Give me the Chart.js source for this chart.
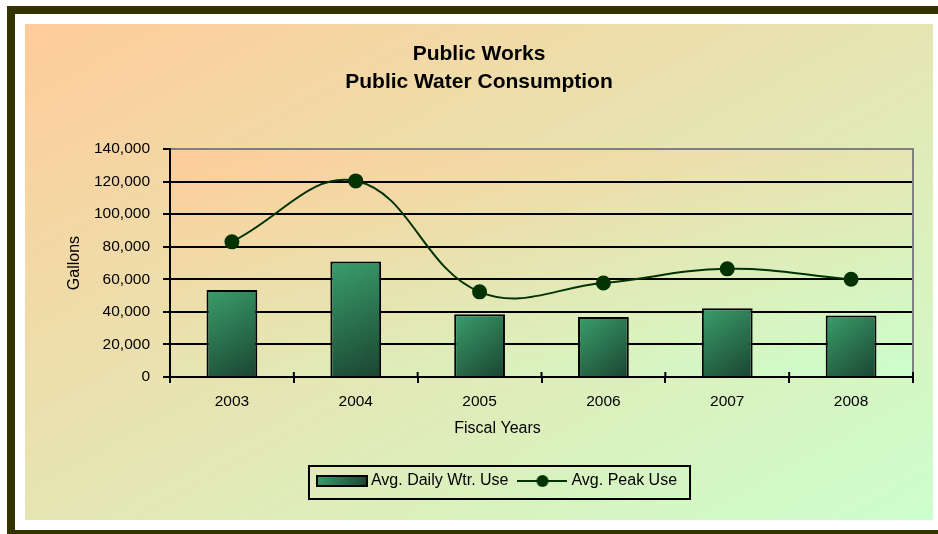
<!DOCTYPE html>
<html lang="en">
<head>
  <meta charset="UTF-8" />
  <title>Public Water Consumption</title>
  <script src="https://cdn.jsdelivr.net/npm/chart.js"></script>
  <style>
    body { margin: 0; background: #fff; }
    .frame {
      position: absolute; left: 7px; top: 6px; width: 940px; height: 516px;
      border-left: 8px solid #333300; border-top: 8px solid #333300; border-bottom: 4px solid #333300;
    }
    .panel {
      position: absolute; left: 25px; top: 24px; width: 908px; height: 496px;
      background: linear-gradient(to bottom right, #ffcc99, #ccffcc);
    }
  </style>
</head>
<body>
  <div class="frame"></div>
  <div class="panel">
    <canvas id="myChart" width="908" height="496"></canvas>
  </div>

  <script>
    // values
    const anos = ['2003', '2004', '2005', '2006', '2007', '2008'];
    const usoDiario = [53400, 70900, 38600, 36900, 42200, 37700];
    const usoPico = [83000, 120400, 52300, 57700, 66400, 60000];
    const ticksY = [0, 20000, 40000, 60000, 80000, 100000, 120000, 140000];
    const tituloX = 'Fiscal Years';

    const fonte = "Arial, 'Liberation Sans', sans-serif";
    const verde = '#003300';

    function swatchBarra() {
      const c = document.createElement('canvas');
      c.width = 52; c.height = 12;
      const g = c.getContext('2d');
      const gr = g.createLinearGradient(0, 0, 52, 12);
      gr.addColorStop(0, '#3a9e6c');
      gr.addColorStop(1, '#1a4530');
      g.fillStyle = gr;
      g.fillRect(1, 1, 50, 10);
      g.strokeStyle = '#000';
      g.lineWidth = 2;
      g.strokeRect(1, 1, 50, 10);
      return c;
    }

    function swatchLinha() {
      const c = document.createElement('canvas');
      c.width = 50; c.height = 14;
      const g = c.getContext('2d');
      g.strokeStyle = verde;
      g.lineWidth = 2;
      g.beginPath(); g.moveTo(0, 7); g.lineTo(50, 7); g.stroke();
      g.fillStyle = verde;
      g.beginPath(); g.arc(25, 7, 6, 0, Math.PI * 2); g.fill();
      return c;
    }

    const ctx = document.getElementById('myChart');

    // plot area background, right border, x title, tick marks above the x axis, legend box
    const extras = {
      id: 'extras',
      beforeDraw(chart) {
        const a = chart.chartArea, c = chart.ctx;
        const w = a.right - a.left, h = a.bottom - a.top;
        const cx = a.left + w / 2, cy = a.top + h / 2;
        const L2 = w * w + h * h;
        const k = w * h / L2;
        // same direction as css "to bottom right"
        const gr = c.createLinearGradient(cx - h * k, cy - w * k, cx + h * k, cy + w * k);
        gr.addColorStop(0, '#ffcc99');
        gr.addColorStop(1, '#ccffcc');
        c.save();
        c.fillStyle = gr;
        c.fillRect(a.left, a.top, w, h);
        c.restore();
      },
      afterLayout(chart) {
        chart.legend.left += 30;
        chart.legend.right += 30;
        chart.titleBlock.left += 10;
        chart.titleBlock.right += 10;
      },
      afterDraw(chart) {
        const a = chart.chartArea, c = chart.ctx, xs = chart.scales.x;
        c.save();
        c.strokeStyle = '#808080';
        c.lineWidth = 2;
        c.beginPath(); c.moveTo(a.right, a.top - 1); c.lineTo(a.right, a.bottom); c.stroke();
        c.strokeStyle = '#000';
        for (let i = 0; i <= anos.length; i++) {
          const px = xs.getPixelForValue(i - 0.5);
          c.beginPath(); c.moveTo(px, a.bottom - 5); c.lineTo(px, a.bottom); c.stroke();
        }
        const hb = chart.legend.legendHitBoxes;
        if (hb && hb.length) {
          const p = hb[0], u = hb[hb.length - 1];
          const l = p.left - 12, r = u.left + u.width + 13;
          const t = p.top - 7, b = p.top + p.height + 10;
          c.strokeStyle = '#000';
          c.strokeRect(l, t, r - l, b - t);
          // x axis title, centred over the legend like the original
          c.fillStyle = '#000';
          c.font = '16px ' + fonte;
          c.textAlign = 'center';
          c.textBaseline = 'middle';
          c.fillText(tituloX, (l + r) / 2 - 2, xs.bottom - 31);
        }
        c.restore();
      }
    };

    new Chart(ctx, {
      data: {
        labels: anos,
        datasets: [{
          type: 'bar',
          label: 'Avg. Daily Wtr. Use',
          data: usoDiario,
          order: 1,
          borderColor: '#000',
          borderWidth: 2,
          categoryPercentage: 1,
          barPercentage: 0.41,
          backgroundColor: function (c) {
            const chart = c.chart;
            if (!chart.chartArea || c.dataIndex === undefined) return '#2e7d55';
            const xs = chart.scales.x, ys = chart.scales.y;
            const x = xs.getPixelForValue(c.dataIndex);
            const y = ys.getPixelForValue(c.raw);
            const b = ys.getPixelForValue(0);
            const gr = chart.ctx.createLinearGradient(x - 25, y, x + 25, b);
            gr.addColorStop(0, '#3a9e6c');
            gr.addColorStop(1, '#1a4530');
            return gr;
          }
        }, {
          type: 'line',
          label: 'Avg. Peak Use',
          data: usoPico,
          order: 0,
          borderColor: verde,
          borderWidth: 2,
          backgroundColor: verde,
          pointBackgroundColor: verde,
          pointBorderColor: verde,
          pointRadius: 6.5,
          tension: 0.4,
          fill: false
        }]
      },
      options: {
        responsive: false,
        animation: false,
        layout: { padding: { left: 0, right: 20, top: 0, bottom: 21 } },
        plugins: {
          tooltip: { enabled: false },
          title: {
            display: true,
            text: ['Public Works', 'Public Water Consumption'],
            color: '#000',
            font: { family: fonte, size: 21, weight: 'bold', lineHeight: 28 / 21 },
            padding: { top: 16, bottom: 53 }
          },
          legend: {
            position: 'bottom',
            labels: {
              color: '#000',
              font: { family: fonte, size: 16 },
              usePointStyle: true,
              pointStyleWidth: 42,
              padding: 13,
              sort: (a, b) => a.datasetIndex - b.datasetIndex,
              generateLabels(chart) {
                const itens = Chart.defaults.plugins.legend.labels.generateLabels(chart);
                itens.forEach(it => {
                  it.pointStyle = it.datasetIndex === 0 ? swatchBarra() : swatchLinha();
                });
                return itens;
              }
            }
          }
        },
        scales: {
          x: {
            afterFit(s) { s.height = 83; },
            grid: { offset: true, drawOnChartArea: false, color: '#000', lineWidth: 2, tickLength: 6 },
            border: { color: '#000', width: 2 },
            ticks: { color: '#000', font: { family: fonte, size: 15.5 }, padding: 9 }
          },
          y: {
            min: 0,
            max: 140000,
            afterFit(s) { s.width = 145; },
            afterBuildTicks(s) { s.ticks = ticksY.map(v => ({ value: v })); },
            grid: {
              color: c => (c.tick && c.tick.value === 140000 ? '#808080' : '#000'),
              tickColor: '#000',
              lineWidth: 2,
              tickLength: 7
            },
            border: { color: '#000', width: 2 },
            ticks: {
              color: '#000',
              font: { family: fonte, size: 15.5 },
              padding: 13,
              callback: v => v.toLocaleString('en-US')
            },
            title: {
              display: true, text: 'Gallons', color: '#000',
              font: { family: fonte, size: 16 }, padding: { top: 40, bottom: 0 }
            }
          }
        }
      },
      plugins: [extras]
    });
  </script>
</body>
</html>
